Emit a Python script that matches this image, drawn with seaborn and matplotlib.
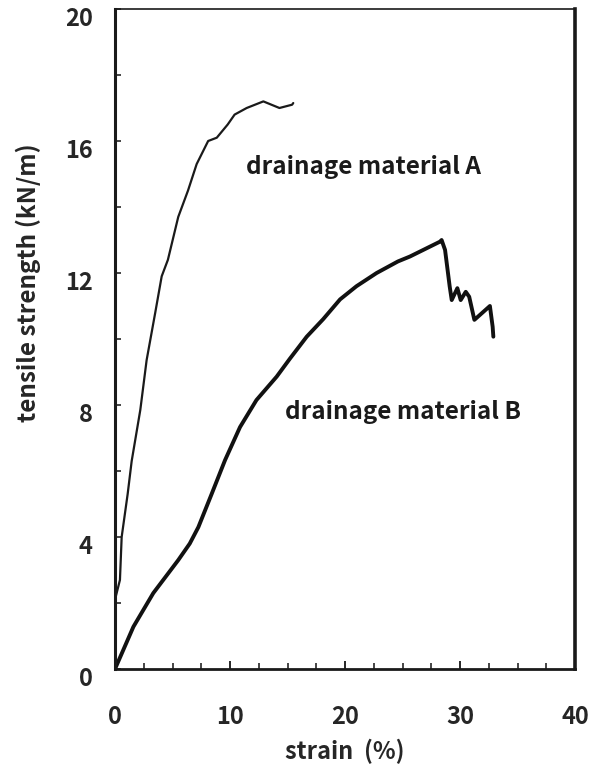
import pandas as pd
import matplotlib
matplotlib.use("Agg")
import matplotlib.pyplot as plt
import matplotlib.transforms as mtransforms
from matplotlib.ticker import MultipleLocator
import seaborn as sns

# drainage material A (strain %, tensile strength kN/m)
strain_a = [0.0, 0.0, 0.43, 0.58, 1.1, 1.45, 2.2, 2.75, 3.5, 4.06, 4.6, 5.5, 6.35,
            7.1, 8.1, 8.85, 9.8, 10.4, 11.45, 12.9, 13.6, 14.3, 15.4, 15.5]
tension_a = [0.0, 2.1, 2.7, 4.0, 5.3, 6.3, 7.85, 9.36, 10.8, 11.9, 12.4, 13.7, 14.5,
             15.3, 16.0, 16.1, 16.5, 16.8, 17.0, 17.2, 17.1, 17.0, 17.1, 17.15]

# drainage material B
strain_b = [0.0, 1.6, 3.33, 5.5, 6.5, 7.25, 8.4, 9.57, 10.87, 12.3, 14.06, 15.2, 16.67,
            18.1, 19.57, 21.0, 22.75, 24.6, 25.65, 28.26, 28.4, 28.7, 29.1, 29.28,
            29.77, 30.06, 30.5, 30.8, 31.25, 32.6, 32.84, 32.9]
tension_b = [0.0, 1.28, 2.3, 3.3, 3.8, 4.3, 5.3, 6.33, 7.33, 8.15, 8.86, 9.4, 10.07,
             10.6, 11.2, 11.6, 12.0, 12.35, 12.5, 12.95, 13.0, 12.7, 11.6, 11.18,
             11.54, 11.18, 11.43, 11.28, 10.58, 11.0, 10.37, 10.07]

x_ticks = [0, 10, 20, 30, 40]
y_ticks = [0, 4, 8, 12, 16, 20]

df = pd.concat([
    pd.DataFrame({"strain": strain_a, "tension": tension_a, "material": "A"}),
    pd.DataFrame({"strain": strain_b, "tension": tension_b, "material": "B"}),
], ignore_index=True)

sns.set_style("ticks")
plt.rcParams["font.family"] = ["Noto Sans CJK JP", "DejaVu Sans"]

fig = plt.figure(figsize=(5.96, 7.67), dpi=100)
ax = fig.add_axes([115 / 596, 1 - 669 / 767, 460 / 596, 660 / 767])

sns.lineplot(data=df, x="strain", y="tension", hue="material", size="material",
             palette={"A": "#1a1a1a", "B": "#111111"}, sizes={"A": 1.6, "B": 2.8},
             sort=False, estimator=None, legend=False, ax=ax)

ax.set_xlim(0, 40)
ax.set_ylim(0, 20)
ax.set_xticks(x_ticks)
ax.set_yticks(y_ticks)
ax.xaxis.set_minor_locator(MultipleLocator(2.5))
ax.yaxis.set_minor_locator(MultipleLocator(2))

ax.tick_params(axis="x", which="major", direction="in", length=6, width=1.4,
               pad=26, labelsize=17)
ax.tick_params(axis="x", which="minor", direction="in", length=4, width=1.2)
ax.tick_params(axis="y", which="major", direction="in", length=4, width=1.2,
               pad=16, labelsize=17)
ax.tick_params(axis="y", which="minor", direction="in", length=4, width=1.2)
for lab in ax.get_xticklabels() + ax.get_yticklabels():
    lab.set_fontweight("bold")
offset = mtransforms.ScaledTranslation(0, -8 / 100, fig.dpi_scale_trans)
for lab in ax.get_yticklabels():
    lab.set_transform(lab.get_transform() + offset)

for side, lw in [("left", 2.2), ("bottom", 2.0), ("right", 2.6), ("top", 1.2)]:
    ax.spines[side].set_visible(True)
    ax.spines[side].set_linewidth(lw)
    ax.spines[side].set_color("#1a1a1a")

ax.set_xlabel("strain  (%)", fontsize=17, fontweight="bold")
ax.xaxis.set_label_coords(0.5, -0.106)
ax.set_ylabel("tensile strength (kN/m)", fontsize=17.5, fontweight="bold")
ax.yaxis.set_label_coords(-0.16, 0.585)

ax.text(11.4, 15.2, "drainage material A", fontsize=17.5, fontweight="bold",
        va="center", ha="left", color="#1a1a1a")
ax.text(14.8, 7.8, "drainage material B", fontsize=17.5, fontweight="bold",
        va="center", ha="left", color="#1a1a1a")

fig.savefig("out.png", dpi=100)
